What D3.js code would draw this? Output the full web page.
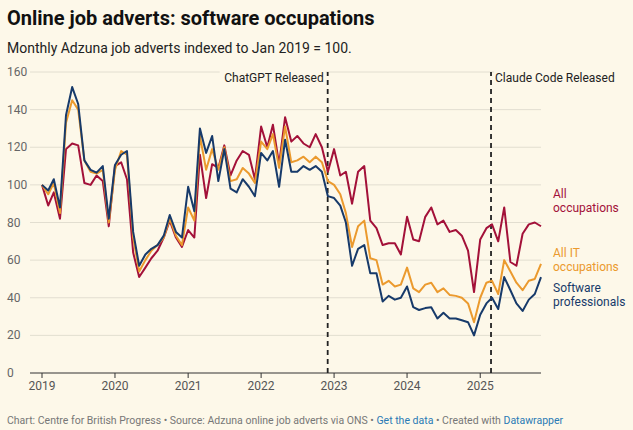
<!DOCTYPE html><html><head><meta charset="utf-8"><script src="https://cdn.jsdelivr.net/npm/d3@7"></script>
<style>body{margin:0;background:#fdf8e9;font-family:Roboto,sans-serif}</style></head><body><svg id="c" width="633" height="430"></svg>
<script>
const startMonth = "2019-01";
const allOcc = [100,89,96,82,119,122,121,101,100,105,102,78,110,112,103,64,51,56,61,65,72,81,72,67,76,
 72,116,93,111,109,121,105,113,118,116,103,131,120,132,111,136,123,126,122,120,127,120,107,
 119,105,107,90,107,110,81,77,68,69,69,63,83,71,70,83,88,79,81,75,76,73,65,43,
 71,77,79,70,88,59,57,74,79,80,78];
const allIT = [100,95,101,85,133,145,140,113,107,106,108,80,108,118,116,72,54,60,65,68,72,82,73,68,88,
 81,126,108,119,108,120,102,103,109,106,101,123,119,127,109,131,112,113,115,112,115,112,102,
 100,95,85,67,78,81,61,60,47,49,46,47,56,45,43,47,48,43,45,41.5,41,40,37,27,
 40,48,49,42,60,54,48,44,49,50,58];
const software = [100,97,103,88,137,152,143,113,108,106.5,110,82,110.6,116,118,75,57,63,66,68,73,84,75,72,99,
 86,130,117,126,102,119,98,96,103,99,94,117,113,118,99,124,107,107,110,108,110,107,94,
 93,89,80,57,66,68,53,53,38,41,39,40,46,35,33.5,34.5,35,29,32,29,29,28,27,20,
 31,37,40,34,51,44,37,33,39,42,51];
const seriesNames = ["All occupations","All IT occupations","Software professionals"];
const yTicks = [0,20,40,60,80,100,120,140,160];
const xTickYears = [2019,2020,2021,2022,2023,2024,2025];
const events = [{label:"ChatGPT Released",date:"2022-11-30"},{label:"Claude Code Released",date:"2025-02-24"}];
const colors = ["#a31139","#eb9a2e","#173a6a"];

const svg = d3.select("#c");
const p0 = d3.timeParse("%Y-%m")(startMonth);
const dates = allOcc.map((_,i)=>d3.timeMonth.offset(p0,i));
const x = d3.scaleTime().domain([p0,dates[dates.length-1]]).range([42,541]);
const y = d3.scaleLinear().domain([0,160]).range([373,72]);

svg.append("text").attr("x",7).attr("y",25).attr("font-size",20).attr("font-weight",700).attr("fill","#111").text("Online job adverts: software occupations");
svg.append("text").attr("x",7).attr("y",53).attr("font-size",14).attr("fill","#222").text("Monthly Adzuna job adverts indexed to Jan 2019 = 100.");

yTicks.forEach(t=>{
  if(t>0) svg.append("line").attr("x1",30).attr("x2",541).attr("y1",y(t)).attr("y2",y(t)).attr("stroke","#e2ded0");
  svg.append("text").attr("x",7).attr("y",y(t)+4).attr("font-size",12).attr("fill","#666").text(t);
});
svg.append("line").attr("x1",30).attr("x2",541).attr("y1",y(0)).attr("y2",y(0)).attr("stroke","#333");
xTickYears.forEach(yr=>{
  const xx=x(new Date(yr,0,1));
  svg.append("line").attr("x1",xx).attr("x2",xx).attr("y1",y(0)).attr("y2",y(0)+5).attr("stroke","#333");
  svg.append("text").attr("x",xx).attr("y",y(0)+17).attr("text-anchor","middle").attr("font-size",12).attr("fill","#555").text(yr);
});
events.forEach((e,i)=>{
  const xx=x(d3.timeParse("%Y-%m-%d")(e.date));
  svg.append("line").attr("x1",xx).attr("x2",xx).attr("y1",y(0)).attr("y2",y(160)).attr("stroke","#222").attr("stroke-width",1.8).attr("stroke-dasharray","5,4");
  svg.append("rect").attr("x",i?xx+3:xx-108).attr("y",70).attr("width",i?140:106).attr("height",16).attr("fill","#fdf8e9");
  svg.append("text").attr("x",xx-4+(i?8:0)).attr("y",82).attr("text-anchor",i?"start":"end").attr("font-size",12).attr("fill","#222").text(e.label);
});
const line = d3.line().x((d,i)=>x(dates[i])).y(d=>y(d));
[allOcc,allIT,software].forEach((s,k)=>{
  svg.append("path").attr("d",line(s)).attr("fill","none").attr("stroke",colors[k]).attr("stroke-width",2).attr("stroke-linejoin","round");
});
const labs=[[["All","occupations"],198],[["All IT","occupations"],257],[["Software","professionals"],292]];
labs.forEach((l,k)=>{
  const t=svg.append("text").attr("x",553).attr("y",labs[k][1]).attr("font-size",12).attr("fill",colors[k]);
  l[0].forEach((w,j)=>t.append("tspan").attr("x",553).attr("dy",j?14:0).text(w));
});
const f=svg.append("text").attr("x",7).attr("y",424).attr("font-size",10.5).attr("fill","#777");
f.append("tspan").text("Chart: Centre for British Progress • Source: Adzuna online job adverts via ONS • ");
f.append("tspan").attr("fill","#2a7ab5").text("Get the data");
f.append("tspan").text(" • Created with ");
f.append("tspan").attr("fill","#2a7ab5").text("Datawrapper");
</script></body></html>
